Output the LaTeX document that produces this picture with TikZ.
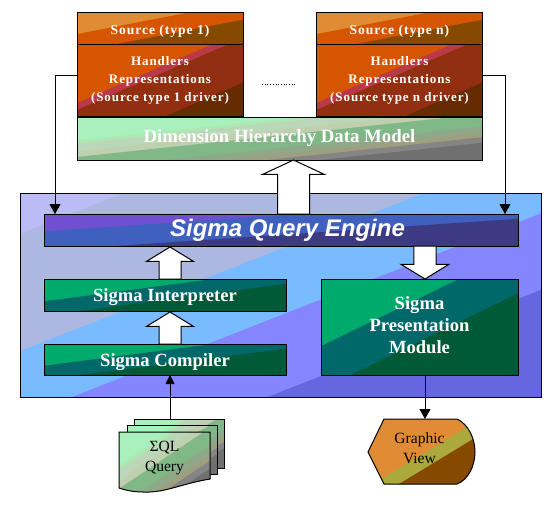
\documentclass[tikz,border=0pt]{standalone}
\usepackage{fontspec}
\setmainfont{Liberation Serif}
\newfontfamily\enginefont{Liberation Sans}
\newfontfamily\srcfont[LetterSpace=7]{Liberation Serif}
\usetikzlibrary{arrows.meta,calc,shapes.arrows}

\definecolor{srca}{RGB}{223,140,52}
\definecolor{srcb}{RGB}{214,85,0}
\definecolor{srcc}{RGB}{133,74,0}
\definecolor{drvb}{RGB}{185,58,70}
\definecolor{drvc}{RGB}{146,47,16}
\definecolor{drvd}{RGB}{102,43,0}
\definecolor{moda}{RGB}{168,240,188}
\definecolor{modb}{RGB}{173,232,178}
\definecolor{modc}{RGB}{186,216,184}
\definecolor{modd}{RGB}{191,207,175}
\definecolor{mode}{RGB}{128,184,136}
\definecolor{modf}{RGB}{143,168,136}
\definecolor{modg}{RGB}{159,159,128}
\definecolor{modh}{RGB}{133,133,133}
\definecolor{modi}{RGB}{112,112,112}
\definecolor{grna}{RGB}{0,170,108}
\definecolor{grnb}{RGB}{0,104,104}
\definecolor{grnc}{RGB}{0,90,56}
\definecolor{enga}{RGB}{112,80,208}
\definecolor{engb}{RGB}{64,96,192}
\definecolor{engc}{RGB}{60,58,130}
\definecolor{frma}{RGB}{187,187,245}
\definecolor{frmb}{RGB}{173,184,225}
\definecolor{frmc}{RGB}{122,186,255}
\definecolor{frmd}{RGB}{133,133,255}
\definecolor{frme}{RGB}{102,102,224}
\definecolor{viewb}{RGB}{171,168,60}

\begin{document}
\begin{tikzpicture}
[
	x=1pt,y=-1pt,
	bands/.style={path picture={
		\coordinate (nw) at (path picture bounding box.north west);
		\coordinate (ne) at (path picture bounding box.north east);
		\coordinate (sw) at (path picture bounding box.south west);
		\coordinate (se) at (path picture bounding box.south east);
		\foreach \c/\col in {#1}
			\fill[\col] ($(nw)!\c!(ne)$) -- ($(nw)!3!(ne)$) -- ($(nw)!3!(se)$) -- ($(nw)!3!(sw)$) -- ($(nw)!\c!(sw)$) -- cycle;
	}},
	box/.style={draw,line width=1pt,inner sep=0pt,outer sep=0pt,align=center,text=white},
	srcband/.style={bands={0/srca,.69/srcb,1.24/srcc}},
	drvband/.style={bands={0/srcb,.82/drvb,.915/drvc,1.535/drvd}},
	modelband/.style={bands={0/moda,.55/modb,.62/modc,.8/modd,.93/mode,1.22/modf,1.375/modg,1.47/modh,1.6/modi}},
	greenband/.style={bands={0/grna,.7/grnb,1.15/grnc}},
	srcbox/.style={box,srcband,minimum width=166pt,minimum height=32pt,text height=15pt,text depth=3pt,font=\srcfont\fontsize{13.6}{18}\selectfont\bfseries},
	drvbox/.style={box,drvband,minimum width=166pt,minimum height=72pt,font=\srcfont\fontsize{13}{18}\selectfont\bfseries},
	modbox/.style={box,greenband,font=\fontsize{18.6}{22}\selectfont\bfseries},
	sheet/.style={draw,line width=1pt,inner sep=0pt,outer sep=0pt,modelband,minimum width=90pt,minimum height=49pt},
	bigarrow/.style={single arrow,draw,fill=white,line width=1pt,inner xsep=0pt,inner ysep=10.5pt,outer sep=0pt,minimum width=46pt,single arrow head extend=12.5pt,single arrow tip angle=117},
	lbl/.style={inner sep=0pt,align=center,font=\fontsize{15.6}{20}\selectfont},
]

	\useasboundingbox (0,0) rectangle (554,506);

	% engine frame
	\node[box,minimum width=521pt,minimum height=204pt,bands={0/frma,.2/frmb,.775/frmc,1.1/frmd,1.475/frme}] (frame) at (280.5,295) {};

	% sources and drivers
	\node[srcbox] (srcone) at (160,28) {Source (type 1)};
	\node[srcbox] (srcn) at (399.5,28) {Source (type n)};
	\node[drvbox] (drvone) at (160,80) {Handlers\\Representations\\(Source type 1 driver)};
	\node[drvbox] (drvn) at (399.5,80) {Handlers\\Representations\\(Source type n driver)};
	\node[box,modelband,minimum width=405pt,minimum height=43pt,font=\fontsize{18.8}{20}\selectfont\bfseries] (model) at (279.5,138.5) {Dimension Hierarchy Data Model};
	\coordinate (dotsl) at (262,84);
	\coordinate (dotsr) at (297,84);
	\draw[dotted,line width=0.7pt] (dotsl) -- (dotsr);

	% block arrow to the data model
	\node[bigarrow,rotate=90,inner ysep=15.5pt,minimum height=54pt,minimum width=61pt,single arrow head extend=15pt,single arrow tip angle=130,anchor=tip] (uparrowc) at ([xshift=14pt]model.south) {};

	% modules
	\node[box,minimum width=474pt,minimum height=32pt,font=\enginefont\fontsize{24}{28}\selectfont\bfseries\itshape,bands={0/enga,.54/engb,1.15/engc}] (engine) at (281,230) {\hspace*{13pt}Sigma Query Engine};
	\node[modbox,minimum width=242pt,minimum height=32pt,text height=17pt,text depth=4pt] (interp) at (165,295) {Sigma Interpreter};
	\node[modbox,minimum width=242pt,minimum height=31pt,text height=17pt,text depth=4pt] (compiler) at (165,359.5) {Sigma Compiler};
	\node[modbox,minimum width=197pt,minimum height=96pt] (present) at (419.5,327) {Sigma\\Presentation\\Module\\[-18pt]};

	% block arrows
	\node[bigarrow,rotate=90,minimum height=32pt,anchor=tail] (uparrowa) at ([xshift=5pt]compiler.north) {};
	\node[bigarrow,rotate=90,minimum height=32pt,anchor=tail] (uparrowb) at ([xshift=5pt]interp.north) {};
	\node[bigarrow,rotate=-90,minimum height=33pt,minimum width=48pt,anchor=tail] (downarrow) at ([xshift=5.5pt]engine.south -| present.north) {};

	% query sheets
	\node[sheet] (sheetc) at (179,443.5) {};
	\node[sheet] (sheetb) at (172,449.5) {};
	\draw[line width=1pt,modelband] (119,432) -- (210,432) -- (210,479) .. controls (180,484) and (165,493) .. (143,492) .. controls (133,492) and (125,490) .. (119,488) -- cycle;
	\node[lbl] (query) at (164.5,458.5) {ΣQL\\Query};

	% graphic view
	\draw[line width=1pt,bands={0/srca,1.05/viewb,1.29/srcc}] (368,452) -- (384,419) -- (457,419) .. controls (468,424) and (475,438) .. (475,452) .. controls (475,466) and (468,480) .. (457,484) -- (384,484) -- cycle;
	\node[lbl] (view) at (419.5,448.5) {Graphic\\View};
	\coordinate (viewtop) at (425,419);

	% connectors
	\draw[line width=1pt,-{Triangle[length=10pt,width=11pt]}] ([yshift=5pt]drvone.west) -| ([xshift=11pt]engine.north west);
	\draw[line width=1pt,-{Triangle[length=10pt,width=11pt]}] ([yshift=5pt]drvn.east) -| ([xshift=-13pt]engine.north east);
	\draw[line width=1pt,-{Triangle[length=9pt,width=9pt]}] ([xshift=36pt]sheetc.north west) -- ([xshift=5pt]compiler.south);
	\draw[line width=1pt,-{Triangle[length=10pt,width=11pt]}] ([xshift=5.5pt]present.south) -- (viewtop);

\end{tikzpicture}
\end{document}
